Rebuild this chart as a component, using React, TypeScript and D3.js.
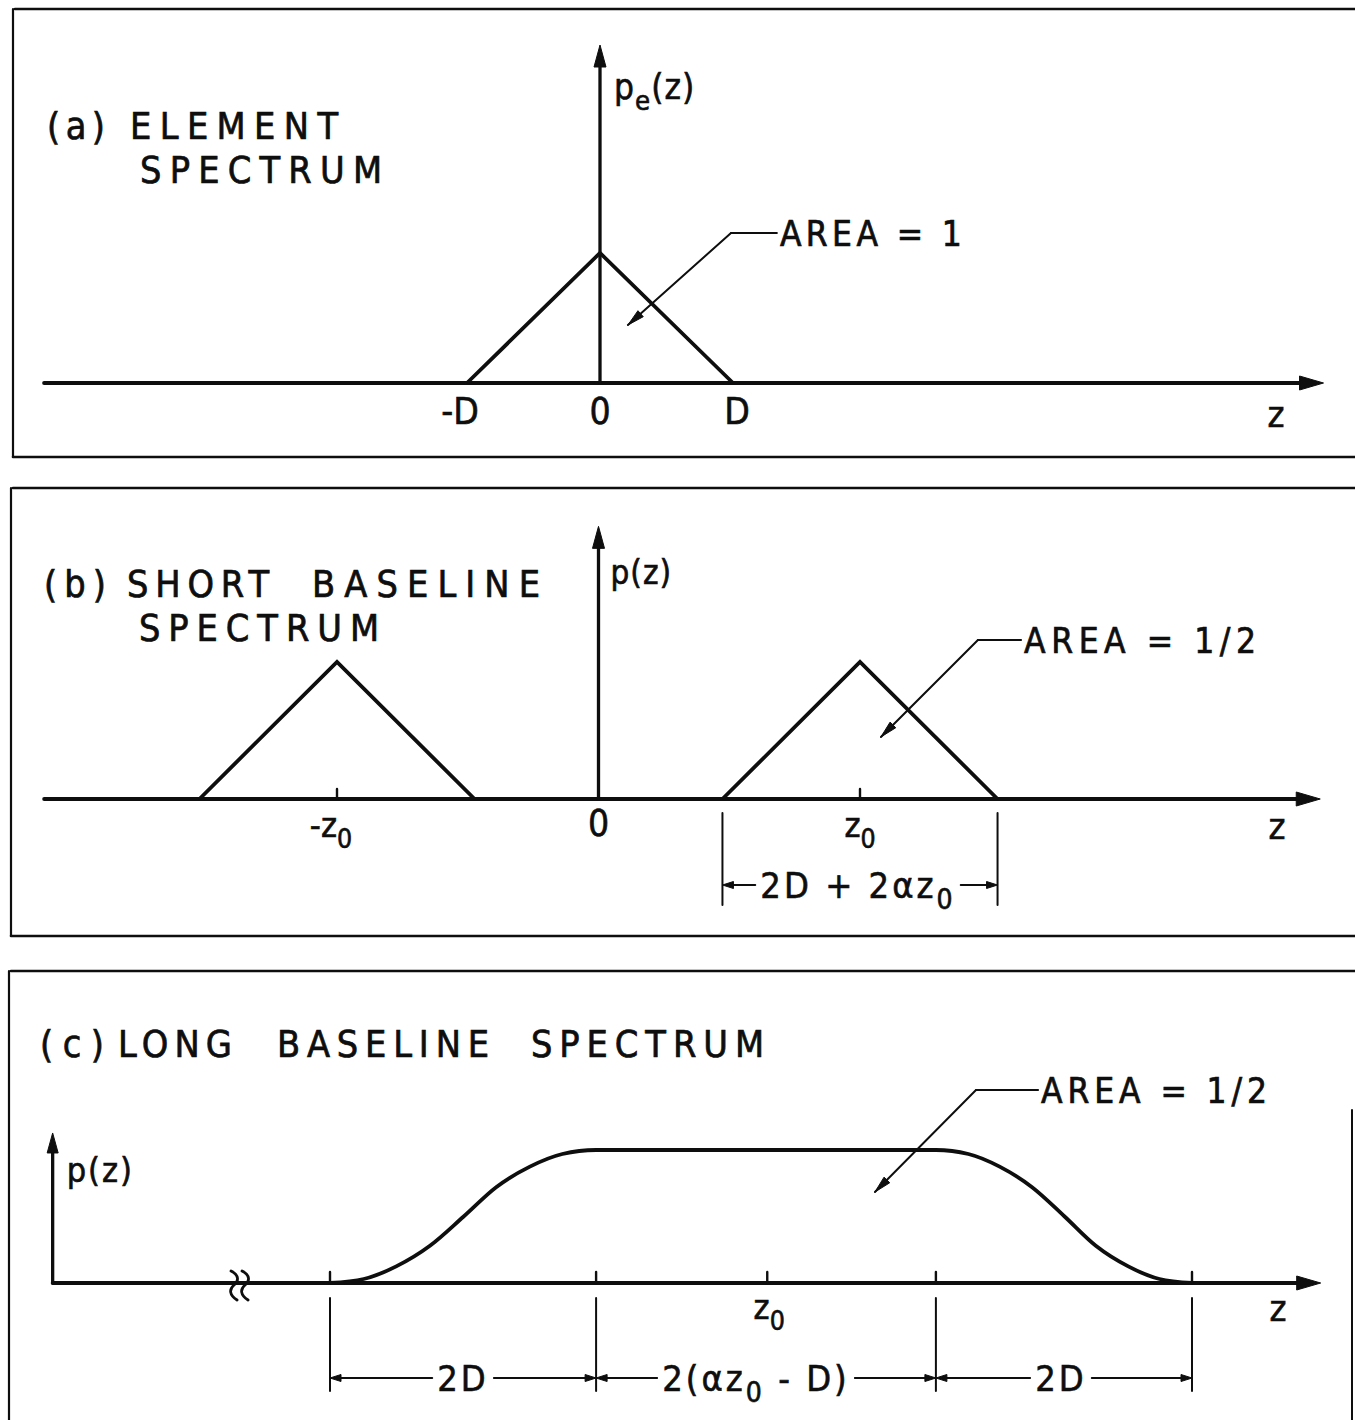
import React, { useEffect, useRef } from 'react';
import * as d3 from 'd3';

const W = 1355;
const H = 1420;
const INK = '#0e0e0e';
const FONT = "'DejaVu Sans Condensed', 'Liberation Sans Narrow', 'DejaVu Sans', sans-serif";

// ---------- (a) element spectrum ----------
const titleA = ['(a)', 'ELEMENT', 'SPECTRUM'];
const elementZ = [-1, 0, 1]; // -D, 0, D
const elementP = [0, 1, 0]; // unit-area triangle
const tickLabelsA = ['-D', '0', 'D'];
const axisLabelA = 'p_e(z)';
const areaLabelA = 'AREA = 1';

// ---------- (b) short baseline spectrum ----------
const titleB = ['(b)', 'SHORT', 'BASELINE', 'SPECTRUM'];
const shortCenters = [-1, 1]; // -z0, z0
const shortHalfWidth = 0.526; // half of (2D + 2αz0), in units of z0
const shortPeak = 1;
const tickZB = [-1, 0, 1];
const tickLabelsB = ['-z_0', '0', 'z_0'];
const axisLabelB = 'p(z)';
const areaLabelB = 'AREA = 1/2';
const widthLabelB = '2D + 2αz_0';

// ---------- (c) long baseline spectrum ----------
const titleC = ['(c)', 'LONG', 'BASELINE', 'SPECTRUM'];
const longZ = [-3.5, -3.23, -2.97, -2.7, -2.43, -2.17, -1.9, -1.64, -1.37, 1.35, 1.61, 1.86, 2.12, 2.38, 2.63, 2.89, 3.14, 3.4];
const longP = [0, 0.03, 0.125, 0.28, 0.5, 0.72, 0.875, 0.97, 1, 1, 0.97, 0.875, 0.72, 0.5, 0.28, 0.125, 0.03, 0];
const tickZC = [-3.5, -1.37, 0, 1.35, 3.4];
const tickLabelsC = ['', '', 'z_0', '', ''];
const edgesC = [-3.5, -1.37, 1.35, 3.4];
const segmentLabelsC = ['2D', '2(αz_0 - D)', '2D'];
const axisLabelC = 'p(z)';
const areaLabelC = 'AREA = 1/2';

const zLabel = 'z';

type G = d3.Selection<SVGGElement, unknown, null, undefined>;

function seg(g: G, x1: number, y1: number, x2: number, y2: number, w: number) {
  g.append('line')
    .attr('x1', x1).attr('y1', y1).attr('x2', x2).attr('y2', y2)
    .attr('stroke', INK).attr('stroke-width', w).attr('stroke-linecap', 'round');
}

function head(g: G, tx: number, ty: number, dx: number, dy: number, len: number, hw: number) {
  const n = Math.hypot(dx, dy);
  const ux = dx / n, uy = dy / n;
  const bx = tx - ux * len, by = ty - uy * len;
  const px = -uy * hw, py = ux * hw;
  g.append('path')
    .attr('d', `M${tx},${ty}L${bx + px},${by + py}L${bx - px},${by - py}Z`)
    .attr('fill', INK).attr('stroke', INK).attr('stroke-width', 1).attr('stroke-linejoin', 'round');
}

// text with "_x" meaning subscript x
function label(g: G, s: string, x: number, y: number, size: number, anchor = 'start', spacing = 0) {
  const t = g.append('text')
    .attr('x', x).attr('y', y)
    .attr('font-size', size)
    .attr('font-family', FONT)
    .attr('fill', INK)
    .attr('stroke', INK)
    .attr('stroke-width', 0.6)
    .attr('text-anchor', anchor)
    .attr('letter-spacing', spacing)
    .style('white-space', 'pre');
  const parts = s.split(/(_.)/).filter(Boolean);
  let shifted = false;
  parts.forEach((p) => {
    if (p.startsWith('_')) {
      t.append('tspan').attr('dy', size * 0.32).attr('font-size', size * 0.78).text(p[1]);
      shifted = true;
    } else {
      t.append('tspan').attr('dy', shifted ? -size * 0.32 : 0).text(p);
      shifted = false;
    }
  });
  return t;
}

function fitted(g: G, s: string, x: number, y: number, size: number, width: number) {
  return g.append('text')
    .attr('x', x).attr('y', y)
    .attr('font-size', size)
    .attr('font-family', FONT)
    .attr('fill', INK)
    .attr('stroke', INK)
    .attr('stroke-width', 0.7)
    .attr('textLength', width)
    .attr('lengthAdjust', 'spacing')
    .style('white-space', 'pre')
    .text(s);
}

// dimension segment: |<-- label -->|
function dimension(g: G, x1: number, x2: number, y: number, text: string, size: number, shift = 0) {
  const t = label(g, text, (x1 + x2) / 2 + shift, y + size * 0.36, size, 'middle', 3);
  const bb = (t.node() as SVGTextElement).getBBox();
  const gap = 5;
  seg(g, x1 + 4, y, bb.x - gap, y, 1.8);
  seg(g, bb.x + bb.width + gap, y, x2 - 4, y, 1.8);
  head(g, x1, y, -1, 0, 11, 3.5);
  head(g, x2, y, 1, 0, 11, 3.5);
}

function leader(g: G, tip: [number, number], elbow: [number, number], endX: number, text: string, size: number, width: number) {
  seg(g, endX, elbow[1], elbow[0], elbow[1], 2);
  seg(g, elbow[0], elbow[1], tip[0], tip[1], 2);
  head(g, tip[0], tip[1], tip[0] - elbow[0], tip[1] - elbow[1], 17, 4);
  fitted(g, text, endX + 3, elbow[1] + size * 0.36, size, width);
}

function frame(g: G, top: number, bottom: number | null, left: number) {
  seg(g, left + 2, top, W, top, 2.6);
  seg(g, left, top, left, bottom ?? H, 2.2);
  if (bottom !== null) seg(g, left, bottom, W, bottom, 2.6);
}

function axisBreak(g: G, cx: number, y0: number) {
  g.append('path')
    .attr('d', `M${cx - 3},${y0 - 12} C${cx + 5},${y0 - 8} ${cx + 5},${y0 - 2} ${cx},${y0 + 2} S${cx - 5},${y0 + 12} ${cx + 3},${y0 + 17}`)
    .attr('fill', 'none').attr('stroke', INK).attr('stroke-width', 2.8).attr('stroke-linecap', 'round');
}

const TITLE_SIZE = 37.5;

export default function App() {
  const ref = useRef<SVGSVGElement>(null);

  useEffect(() => {
    const svg = d3.select(ref.current as SVGSVGElement);
    svg.selectAll('*').remove();
    const root = svg.append('g') as unknown as G;

    // ---------------- panel (a) ----------------
    {
      const g = root.append('g') as unknown as G;
      frame(g, 9, 457, 13);
      const x = d3.scaleLinear().domain([-1, 1]).range([467, 733]);
      const y = d3.scaleLinear().domain([0, 1]).range([383, 253]);
      const y0 = y(0);

      fitted(g, titleA[0], 47, 139, TITLE_SIZE, 58);
      fitted(g, titleA[1], 130, 139, TITLE_SIZE, 208);
      fitted(g, titleA[2], 140, 183, TITLE_SIZE, 242);

      // axes
      seg(g, x(-4.18), y0, x(5.44) - 10, y0, 3.8);
      head(g, x(5.44), y0, 1, 0, 24, 7);
      seg(g, x(0), y0, x(0), y(2.6) + 10, 3.3);
      head(g, x(0), y(2.6), 0, -1, 22, 6);

      const tri = d3.line<number>().x((d) => x(d)).y((_, i) => y(elementP[i]));
      g.append('path').attr('d', tri(elementZ)).attr('fill', 'none')
        .attr('stroke', INK).attr('stroke-width', 3.8).attr('stroke-linejoin', 'miter');

      elementZ.forEach((z, i) => label(g, tickLabelsA[i], x(z) + (i === 0 ? -7 : i === 2 ? 4 : 0), y0 + 41, 37, 'middle'));
      label(g, zLabel, 1276, y0 + 44, 36, 'middle');
      label(g, axisLabelA, x(0) + 14, 99, 35, 'start', 1);

      leader(g, [x(0.21), y(0.446)], [x(0.985), y(1.154)], x(1.33), areaLabelA, 35, 182);
    }

    // ---------------- panel (b) ----------------
    {
      const g = root.append('g') as unknown as G;
      frame(g, 488, 936, 11);
      const x = d3.scaleLinear().domain([-1, 1]).range([337, 860]);
      const y = d3.scaleLinear().domain([0, 1]).range([799, 662]);
      const y0 = y(0);

      fitted(g, titleB[0], 44, 597, TITLE_SIZE, 62);
      fitted(g, titleB[1], 127, 597, TITLE_SIZE, 142);
      fitted(g, titleB[2], 312, 597, TITLE_SIZE, 228);
      fitted(g, titleB[3], 139, 641, TITLE_SIZE, 240);

      seg(g, x(-2.12), y0, x(2.76) - 10, y0, 3.8);
      head(g, x(2.76), y0, 1, 0, 24, 7);
      seg(g, x(0), y0, x(0), y(1.99) + 10, 3.3);
      head(g, x(0), y(1.99), 0, -1, 22, 6);

      const tri = d3.line<[number, number]>().x((d) => x(d[0])).y((d) => y(d[1]));
      shortCenters.forEach((c) => {
        const pts: [number, number][] = [[c - shortHalfWidth, 0], [c, shortPeak], [c + shortHalfWidth, 0]];
        g.append('path').attr('d', tri(pts)).attr('fill', 'none')
          .attr('stroke', INK).attr('stroke-width', 3.8).attr('stroke-linejoin', 'miter');
        seg(g, x(c), y0, x(c), y0 - 10, 2.4);
      });

      tickZB.forEach((z, i) => label(g, tickLabelsB[i], x(z) + (i === 0 ? -6 : 0), y0 + (i === 1 ? 37 : 38), i === 1 ? 37 : 34, 'middle'));
      label(g, zLabel, 1277, y0 + 40, 36, 'middle');
      label(g, axisLabelB, x(0) + 12, 584, 33, 'start', 1);

      // extent of the right-hand component
      const xl = x(shortCenters[1] - shortHalfWidth);
      const xr = x(shortCenters[1] + shortHalfWidth);
      seg(g, xl, y0 + 14, xl, y0 + 106, 2);
      seg(g, xr, y0 + 14, xr, y0 + 106, 2);
      dimension(g, xl, xr, y0 + 86, widthLabelB, 36, -2);

      leader(g, [x(1.08), y(0.453)], [x(1.451), y(1.16)], x(1.616), areaLabelB, 35, 232);
    }

    // ---------------- panel (c) ----------------
    {
      const g = root.append('g') as unknown as G;
      frame(g, 971, null, 9);
      seg(g, 1352, 1110, 1352, H, 2);
      const x = d3.scaleLinear().domain([-3.5, 3.4]).range([330, 1192]);
      const y = d3.scaleLinear().domain([0, 1]).range([1283, 1150]);
      const y0 = y(0);

      fitted(g, titleC[0], 40, 1057, TITLE_SIZE, 64);
      fitted(g, titleC[1], 118, 1057, TITLE_SIZE, 114);
      fitted(g, titleC[2], 277, 1057, TITLE_SIZE, 212);
      fitted(g, titleC[3], 531, 1057, TITLE_SIZE, 233);

      seg(g, x(-5.72), y0, x(4.43) - 10, y0, 3.8);
      head(g, x(4.43), y0, 1, 0, 24, 7);
      seg(g, x(-5.72), y0, x(-5.72), y(1.128) + 10, 3.3);
      head(g, x(-5.72), y(1.128), 0, -1, 20, 5.5);

      // axis break
      const bx = x(-4.22);
      [-6, 5].forEach((o) => axisBreak(g, bx + o, y0));

      tickZC.forEach((z, i) => {
        seg(g, x(z), y0, x(z), y0 - 11, 2.4);
        if (tickLabelsC[i]) label(g, tickLabelsC[i], x(z) + 2, y0 + 36, 34, 'middle');
      });
      label(g, zLabel, 1278, y0 + 38, 36, 'middle');
      label(g, axisLabelC, x(-5.72) + 14, 1182, 34, 'start', 2);

      const curve = d3.line<number>().x((d) => x(d)).y((_, i) => y(longP[i])).curve(d3.curveMonotoneX);
      g.append('path').attr('d', curve(longZ)).attr('fill', 'none')
        .attr('stroke', INK).attr('stroke-width', 3.8);

      edgesC.forEach((z) => seg(g, x(z), y0 + 15, x(z), y0 + 108, 2));
      const dimY = y0 + 95;
      const shifts = [0, -10, -3];
      segmentLabelsC.forEach((s, i) => dimension(g, x(edgesC[i]), x(edgesC[i + 1]), dimY, s, 36, shifts[i]));

      leader(g, [x(0.862), y(0.684)], [x(1.671), y(1.451)], x(2.168), areaLabelC, 35, 226);
    }
  }, []);

  return (
    <svg
      ref={ref}
      width={W}
      height={H}
      style={{ position: 'absolute', left: 0, top: 0, background: '#fff' }}
    />
  );
}
